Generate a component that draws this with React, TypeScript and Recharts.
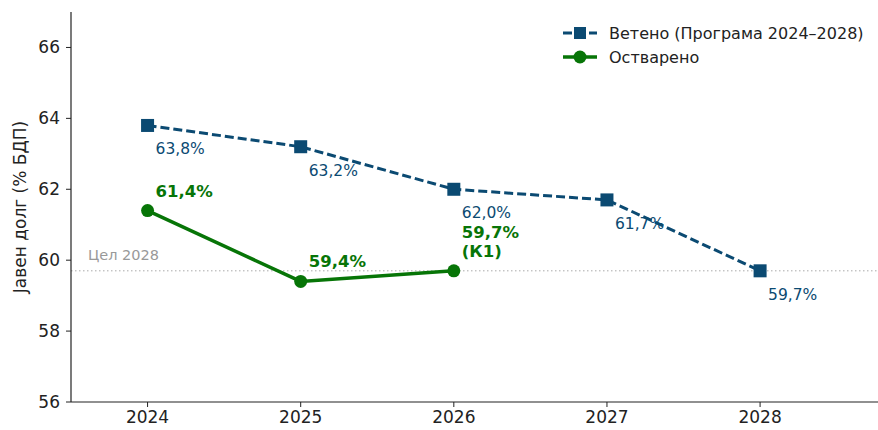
import {
  LineChart,
  Line,
  XAxis,
  YAxis,
  ReferenceLine,
  LabelList,
} from 'recharts';

const years = [2024, 2025, 2026, 2027, 2028];
const planned = [63.8, 63.2, 62.0, 61.7, 59.7];
const actual = [61.4, 59.4, 59.7];
const plannedLabels = ['63,8%', '63,2%', '62,0%', '61,7%', '59,7%'];
const actualLabels = ['61,4%', '59,4%', '59,7%\n(К1)'];
const yTicks = [56, 58, 60, 62, 64, 66];
const target = 59.7;

const BLUE = '#0b4a72';
const GREEN = '#077507';
const FONT = 'DejaVu Sans, sans-serif';

const data = years.map((year, i) => ({
  year,
  planned: planned[i],
  plannedLabel: plannedLabels[i],
  actual: i < actual.length ? actual[i] : null,
  actualLabel: i < actualLabels.length ? actualLabels[i] : '',
}));

const SquareDot = (props: any) => {
  const { cx, cy } = props;
  if (cx == null || cy == null) return null;
  return <rect x={cx - 6.5} y={cy - 6.5} width={13} height={13} fill={BLUE} />;
};

const PlannedLabel = (props: any) => {
  const { x, y, value } = props;
  return (
    <text x={x + 8} y={y + 29} fill={BLUE} fontSize={15.5} fontFamily={FONT}>
      {value}
    </text>
  );
};

const ActualLabel = (props: any) => {
  const { x, y, value } = props;
  if (!value) return null;
  const lines = String(value).split('\n');
  const startY = lines.length > 1 ? y - 33 : y - 14;
  return (
    <text x={x + 8} y={startY} fill={GREEN} fontSize={16.5} fontWeight="bold" fontFamily={FONT}>
      {lines.map((l, i) => (
        <tspan key={i} x={x + 8} dy={i === 0 ? 0 : 19}>
          {l}
        </tspan>
      ))}
    </text>
  );
};

// legend drawn as an overlay so it does not shrink the plot
const LegendBox = () => (
  <div
    style={{
      position: 'absolute',
      left: 563,
      top: 21,
      fontFamily: FONT,
      fontSize: 16,
      color: '#222',
    }}
  >
    <div style={{ display: 'flex', alignItems: 'center', height: 24 }}>
      <svg width={34} height={14} style={{ marginRight: 12 }}>
        <line x1={0} y1={7} x2={34} y2={7} stroke={BLUE} strokeWidth={3} strokeDasharray="9 4" />
        <rect x={11} y={1} width={12} height={12} fill={BLUE} />
      </svg>
      Ветено (Програма 2024–2028)
    </div>
    <div style={{ display: 'flex', alignItems: 'center', height: 24 }}>
      <svg width={34} height={14} style={{ marginRight: 12 }}>
        <line x1={0} y1={7} x2={34} y2={7} stroke={GREEN} strokeWidth={3.5} />
        <circle cx={17} cy={7} r={6.5} fill={GREEN} />
      </svg>
      Остварено
    </div>
  </div>
);

export default function App() {
  return (
    <div style={{ position: 'absolute', left: 0, top: 0, width: 878, height: 430, background: '#fff' }}>
      <LineChart
        width={878}
        height={430}
        data={data}
        margin={{ top: 12, right: 0, bottom: 0, left: 0 }}
      >
        <XAxis
          dataKey="year"
          type="number"
          domain={[2023.5, 2028.77]}
          ticks={years}
          allowDataOverflow
          tick={{ fontSize: 17, fill: '#222', fontFamily: FONT }}
          tickLine={{ stroke: '#222' }}
          tickSize={5}
          tickMargin={4}
          axisLine={{ stroke: '#222', strokeWidth: 1.2 }}
          height={28}
        />
        <YAxis
          type="number"
          domain={[56, 67]}
          ticks={yTicks}
          allowDataOverflow
          width={71}
          tick={{ fontSize: 17, fill: '#222', fontFamily: FONT }}
          tickLine={{ stroke: '#222' }}
          tickSize={5}
          tickMargin={6}
          axisLine={{ stroke: '#222', strokeWidth: 1.2 }}
          label={{
            value: 'Јавен долг (% БДП)',
            angle: -90,
            position: 'insideLeft',
            offset: 20,
            style: { textAnchor: 'middle', fontSize: 17, fill: '#222', fontFamily: FONT },
          }}
        />
        <ReferenceLine
          y={target}
          stroke="#aaaaaa"
          strokeDasharray="1.5 2.5"
          strokeWidth={1}
          label={{
            value: 'Цел 2028',
            position: 'insideTopLeft',
            fill: '#999',
            fontSize: 14.5,
            fontFamily: FONT,
            dx: 12,
            dy: -26,
          }}
        />
        <Line
          dataKey="planned"
          stroke={BLUE}
          strokeWidth={3}
          strokeDasharray="9 4"
          dot={<SquareDot />}
          activeDot={false}
          isAnimationActive={false}
        >
          <LabelList dataKey="plannedLabel" content={<PlannedLabel />} />
        </Line>
        <Line
          dataKey="actual"
          stroke={GREEN}
          strokeWidth={3.5}
          dot={{ r: 6.5, fill: GREEN, stroke: GREEN, strokeWidth: 0 }}
          activeDot={false}
          isAnimationActive={false}
        >
          <LabelList dataKey="actualLabel" content={<ActualLabel />} />
        </Line>
      </LineChart>
      <LegendBox />
    </div>
  );
}
